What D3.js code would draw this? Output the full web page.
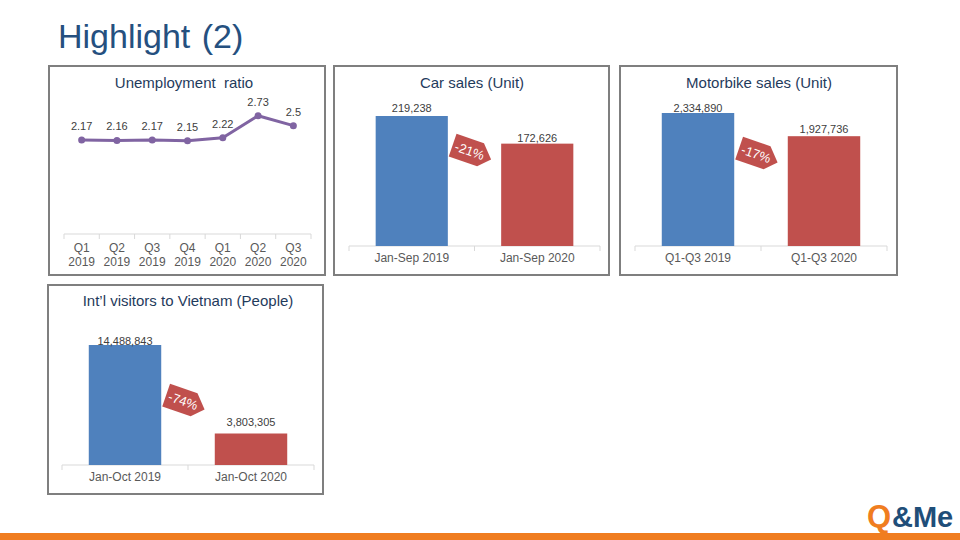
<!DOCTYPE html>
<html>
<head>
<meta charset="utf-8">
<script src="https://cdn.jsdelivr.net/npm/d3@7/dist/d3.min.js"></script>
<style>
  html, body { margin: 0; padding: 0; background: #ffffff; }
  svg { display: block; font-family: "Liberation Sans", Arial, sans-serif; }
</style>
</head>
<body>
<svg id="chart" width="960" height="540"></svg>
<script>
// ---------------- DATA ----------------
const pageTitle = "Highlight (2)";

const unempTitle = "Unemployment  ratio";
const unempCategories = [["Q1", "2019"], ["Q2", "2019"], ["Q3", "2019"], ["Q4", "2019"], ["Q1", "2020"], ["Q2", "2020"], ["Q3", "2020"]];
const unempValues = [2.17, 2.16, 2.17, 2.15, 2.22, 2.73, 2.5];
const unempLabels = ["2.17", "2.16", "2.17", "2.15", "2.22", "2.73", "2.5"];

const carTitle = "Car sales (Unit)";
const carCategories = ["Jan-Sep 2019", "Jan-Sep 2020"];
const carValues = [219238, 172626];
const carChange = "-21%";

const motoTitle = "Motorbike sales (Unit)";
const motoCategories = ["Q1-Q3 2019", "Q1-Q3 2020"];
const motoValues = [2334890, 1927736];
const motoChange = "-17%";

const visitorTitle = "Int\u2019l visitors to Vietnam (People)";
const visitorCategories = ["Jan-Oct 2019", "Jan-Oct 2020"];
const visitorValues = [14488843, 3803305];
const visitorChange = "-74%";

const logoParts = ["Q", "&Me"];

// ---------------- STYLE ----------------
const BLUE = "#4F81BD", RED = "#C0504D", PURPLE = "#8064A2";
const TITLE_COLOR = "#1F3B5C", TEXT = "#404040", AXIS_TEXT = "#595959";
const FRAME = "#7F7F7F", AXIS_LINE = "#D9D9D9";
const fmt = d3.format(",");

const svg = d3.select("#chart");

// page title
svg.append("text")
  .attr("x", 58).attr("y", 48)
  .attr("font-size", 34)
  .attr("fill", "#25507F")
  .attr("word-spacing", 2)
  .text(pageTitle);

// bottom orange bar
svg.append("rect").attr("x", 0).attr("y", 533).attr("width", 960).attr("height", 7).attr("fill", "#F07D20");

// logo
svg.append("text")
  .attr("x", 867).attr("y", 527)
  .attr("font-size", 31).attr("font-weight", "bold").attr("fill", "#F07D20")
  .text(logoParts[0]);
svg.append("text")
  .attr("x", 892).attr("y", 527)
  .attr("font-size", 29).attr("font-weight", "bold").attr("fill", "#1F4E79")
  .text(logoParts[1]);

function frame(p) {
  svg.append("rect")
    .attr("x", p.x).attr("y", p.y).attr("width", p.w).attr("height", p.h)
    .attr("fill", "none").attr("stroke", FRAME).attr("stroke-width", 2);
}

function panelTitle(text, x, y) {
  svg.append("text")
    .attr("x", x).attr("y", y)
    .attr("text-anchor", "middle")
    .attr("font-size", 15)
    .attr("fill", TITLE_COLOR)
    .style("white-space", "pre")
    .text(text);
}

function baseAxis(g, xScale, axisY) {
  const [x0, x1] = xScale.range();
  g.append("line").attr("x1", x0).attr("x2", x1).attr("y1", axisY).attr("y2", axisY)
    .attr("stroke", AXIS_LINE).attr("stroke-width", 1);
  const bounds = xScale.domain().map(d => xScale(d)).concat([x1]);
  g.selectAll(".tk").data(bounds).join("line")
    .attr("x1", d => d).attr("x2", d => d)
    .attr("y1", axisY).attr("y2", axisY + 5)
    .attr("stroke", AXIS_LINE).attr("stroke-width", 1);
}

// ---------------- LINE CHART ----------------
(function () {
  const p = { x: 49, y: 66, w: 276, h: 209 };
  frame(p);
  panelTitle(unempTitle, 184, 88);
  const g = svg.append("g");
  const axisY = 234;
  const idx = unempCategories.map((d, i) => i);
  const x = d3.scaleBand().domain(idx).range([64, 311]).paddingInner(0).paddingOuter(0);
  const y = d3.scaleLinear().domain([0, 3]).range([axisY, 104]);
  baseAxis(g, x, axisY);
  const cx = i => x(i) + x.bandwidth() / 2;

  g.append("path")
    .datum(unempValues)
    .attr("fill", "none").attr("stroke", PURPLE).attr("stroke-width", 3)
    .attr("stroke-linejoin", "round")
    .attr("d", d3.line().x((d, i) => cx(i)).y(d => y(d)));

  g.selectAll(".pt").data(unempValues).join("circle")
    .attr("cx", (d, i) => cx(i)).attr("cy", d => y(d)).attr("r", 3.5)
    .attr("fill", PURPLE);

  g.selectAll(".lbl").data(unempValues).join("text")
    .attr("x", (d, i) => cx(i)).attr("y", d => y(d) - 10)
    .attr("text-anchor", "middle").attr("font-size", 11).attr("fill", TEXT)
    .text((d, i) => unempLabels[i]);

  const cat = g.selectAll(".cat").data(unempCategories).join("text")
    .attr("text-anchor", "middle").attr("font-size", 12).attr("fill", AXIS_TEXT);
  cat.append("tspan").attr("x", (d, i) => cx(i)).attr("y", 251.5).text(d => d[0]);
  cat.append("tspan").attr("x", (d, i) => cx(i)).attr("y", 265.5).text(d => d[1]);
})();

// ---------------- BAR CHARTS ----------------
function badge(cx, cy, label) {
  const g = svg.append("g").attr("transform", `translate(${cx},${cy}) rotate(19)`);
  g.append("polygon")
    .attr("points", [[-21, -12], [8, -12], [20, 1], [9, 12], [-21, 12]].map(p => p.join(",")).join(" "))
    .attr("fill", RED);
  g.append("text").attr("x", -3).attr("y", 4.5)
    .attr("text-anchor", "middle").attr("font-size", 13).attr("fill", "#FFFFFF")
    .text(label);
}

function barChart(cfg) {
  frame(cfg.frame);
  panelTitle(cfg.title, cfg.titleX, cfg.titleY);
  const g = svg.append("g");
  const x = d3.scaleBand().domain(cfg.categories).range(cfg.xRange).paddingInner(0).paddingOuter(0);
  const y = d3.scaleLinear().domain([0, cfg.yMax]).range([cfg.axisY, cfg.yTop]);
  const barW = x.bandwidth() * 0.575;
  const bx = d => x(d) + (x.bandwidth() - barW) / 2;
  baseAxis(g, x, cfg.axisY);

  g.selectAll(".bar").data(cfg.values).join("rect")
    .attr("x", (d, i) => bx(cfg.categories[i]))
    .attr("y", d => y(d))
    .attr("width", barW)
    .attr("height", d => cfg.axisY - y(d))
    .attr("fill", (d, i) => i === 0 ? BLUE : RED);

  g.selectAll(".val").data(cfg.values).join("text")
    .attr("x", (d, i) => x(cfg.categories[i]) + x.bandwidth() / 2)
    .attr("y", (d, i) => y(d) - cfg.labelGap[i])
    .attr("text-anchor", "middle").attr("font-size", 11).attr("fill", TEXT)
    .text(d => fmt(d));

  g.selectAll(".cat").data(cfg.categories).join("text")
    .attr("x", d => x(d) + x.bandwidth() / 2)
    .attr("y", cfg.axisY + 16)
    .attr("text-anchor", "middle").attr("font-size", 12).attr("fill", AXIS_TEXT)
    .text(d => d);

  badge(x(cfg.categories[1]) - 2, cfg.badgeY, cfg.change);
}

barChart({
  frame: { x: 334, y: 66, w: 275, h: 209 },
  title: carTitle, titleX: 472, titleY: 88,
  categories: carCategories, values: carValues, change: carChange,
  xRange: [349, 600], axisY: 246, yMax: 250000, yTop: 246 - 130 * 250000 / 219238,
  labelGap: [4, 2], badgeY: 152
});

barChart({
  frame: { x: 620, y: 66, w: 277, h: 209 },
  title: motoTitle, titleX: 759, titleY: 88,
  categories: motoCategories, values: motoValues, change: motoChange,
  xRange: [635, 887], axisY: 246, yMax: 2500000, yTop: 246 - 133 * 2500000 / 2334890,
  labelGap: [1, 3], badgeY: 155
});

barChart({
  frame: { x: 48, y: 285, w: 275, h: 209 },
  title: visitorTitle, titleX: 188, titleY: 306,
  categories: visitorCategories, values: visitorValues, change: visitorChange,
  xRange: [62, 314], axisY: 465, yMax: 16000000, yTop: 465 - 120 * 16000000 / 14488843,
  labelGap: [0, 8], badgeY: 402
});
</script>
</body>
</html>
